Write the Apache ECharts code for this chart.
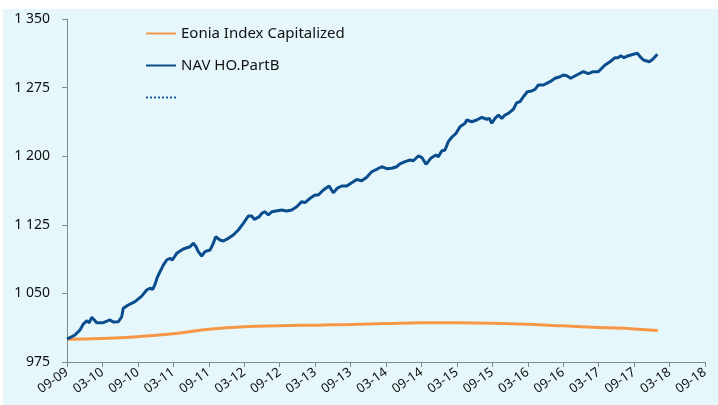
<!DOCTYPE html>
<html>
<head>
    <meta charset="utf-8">
    <title>NAV HO.PartB vs Eonia</title>
    <script src="https://cdn.jsdelivr.net/npm/echarts@6/dist/echarts.min.js"></script>
    <style>
        body { margin: 0; background: #fff; }
        #main { position: absolute; left: 3px; top: 9px; width: 715px; height: 396px; }
    </style>
</head>
<body>
    <div id="main"></div>
    <script type="text/javascript">
        // months counted from Sep 2009
        var tickLabels = ['09-09','03-10','09-10','03-11','09-11','03-12','09-12','03-13','09-13','03-14',
                          '09-14','03-15','09-15','03-16','09-16','03-17','09-17','03-18','09-18'];

        var navMonths = [0,1.35,2.2,2.76,3.34,3.78,4.18,4.62,5.03,6.15,7.28,7.84,8.69,9.26,9.53,10.38,11.51,12.65,13.49,14.05,
            14.51,14.9,15.29,15.74,16.03,16.3,16.88,17.44,17.83,18.57,19.69,20.82,21.38,21.84,22.23,22.8,23.36,24.21,24.77,25.17,
            25.9,26.46,27.31,28.15,29.0,29.85,30.69,31.27,31.71,32.56,32.96,33.52,34.08,34.66,36.35,37.2,38.04,38.89,39.73,40.29,
            41.14,41.99,42.55,43.39,44.36,45.08,45.76,46.51,47.35,48.2,49.05,49.89,50.74,51.58,52.43,53.28,54.12,54.97,55.82,56.37,
            57.22,58.07,58.63,59.47,60.05,60.78,61.57,62.47,62.86,63.43,63.99,64.55,65.13,65.86,66.53,67.38,67.67,68.52,69.36,70.21,
            71.06,71.5,71.9,72.46,73.02,73.6,74.15,74.71,75.56,76.13,76.69,77.25,77.93,78.68,79.23,79.79,80.64,81.21,81.77,82.62,
            83.46,84.02,84.6,85.27,86.29,87.41,88.25,89.1,89.95,90.52,91.08,91.93,92.78,93.34,93.74,94.3,95.03,95.88,96.56,97.01,
            97.57,98.59,99.16,99.94];
        var navValues = [1000,1004.5,1010,1016.5,1020,1018,1023.9,1021,1018,1018,1021,1018.7,1019,1024.5,1033.7,1037.3,1041,1047,1053.7,1055.6,
            1054.5,1060,1067.6,1073.7,1077.4,1081,1086.5,1088.4,1086.5,1093.8,1098.5,1101,1104.8,1101,1095.6,1090.9,1095.6,1097.4,1104.8,1112,
            1108.4,1107.3,1110.2,1113.9,1119.3,1126.6,1134.6,1134.6,1131,1133.9,1137.6,1139.3,1135.7,1139.3,1141.2,1140,1141.2,1144.8,1150.3,1149.2,
            1154,1157.6,1157.6,1163,1167.4,1160,1165,1167.4,1167.4,1171,1174.5,1173.2,1177,1183,1185.7,1188.5,1186.3,1186.8,1188.5,1191.5,
            1194,1195.8,1195,1200.2,1198.8,1191.1,1197.7,1201.3,1199.5,1205.7,1206.8,1215.9,1220.7,1225,1232.3,1236,1239.6,1237.7,1239.6,1242.5,
            1240.4,1241.4,1236,1241.4,1245,1241.4,1245,1246.9,1251.3,1258.5,1259.6,1265,1270.5,1271.3,1273.1,1277.8,1277.8,1279.7,1281.5,1285.2,
            1286.9,1288.8,1288,1285.2,1288.8,1292.4,1290.2,1292.4,1292.4,1296.1,1299.7,1303.3,1307.7,1307.7,1309.9,1307.7,1309.9,1311.4,1312.5,1308.8,
            1305.2,1303.3,1305.9,1311.4];

        var eoniaMonths = [0,6,12,18,24,30,36,42,48,54,60,66,72,78,84,90,96,100];
        var eoniaValues = [1000,1000.7,1002.7,1006,1010.7,1013.6,1014.7,1015.3,1016,1017,1017.8,1017.8,1017.4,1016.3,1014.5,1012.7,1011.2,1009.4];

        function pairs(xs, ys) {
            return xs.map(function (x, i) { return [x, ys[i]]; });
        }

        var myChart = echarts.init(document.getElementById('main'));

        var axisColor = '#7f8a90';
        var option = {
            backgroundColor: '#e6f7fc',
            animation: false,
            grid: { left: 64, right: 13, top: 10, bottom: 43 },
            legend: {
                orient: 'vertical',
                left: 137,
                top: 12,
                itemWidth: 30,
                itemHeight: 14,
                itemGap: 17,
                itemStyle: { opacity: 0 },
                textStyle: { fontFamily: 'Noto Sans', fontSize: 15, color: '#111' },
                data: ['Eonia Index Capitalized', 'NAV HO.PartB', ' ']
            },
            xAxis: {
                type: 'value',
                min: 0,
                max: 108,
                interval: 6,
                splitLine: { show: false },
                axisLine: { lineStyle: { color: axisColor } },
                axisTick: { length: 5, lineStyle: { color: axisColor } },
                axisLabel: {
                    rotate: 35,
                    margin: 9,
                    fontFamily: 'Noto Sans',
                    fontSize: 13,
                    color: '#111',
                    formatter: function (v) { return tickLabels[Math.round(v / 6)]; }
                }
            },
            yAxis: {
                type: 'value',
                min: 975,
                max: 1350,
                interval: 75,
                splitLine: { show: false },
                axisLine: { show: true, lineStyle: { color: axisColor } },
                axisTick: { show: true, length: 5, lineStyle: { color: axisColor } },
                axisLabel: {
                    margin: 17,
                    fontFamily: 'Noto Sans',
                    fontSize: 14,
                    color: '#111',
                    formatter: function (v) {
                        var s = String(v);
                        return s.length > 3 ? s.slice(0, s.length - 3) + ' ' + s.slice(-3) : s;
                    }
                }
            },
            series: [{
                name: 'Eonia Index Capitalized',
                type: 'line',
                smooth: true,
                symbol: 'none',
                lineStyle: { color: '#f79646', width: 3 },
                itemStyle: { color: '#f79646' },
                data: pairs(eoniaMonths, eoniaValues),
                z: 2
            }, {
                name: 'NAV HO.PartB',
                type: 'line',
                symbol: 'none',
                lineStyle: { color: '#0a4d8c', width: 3 },
                itemStyle: { color: '#0a4d8c' },
                data: pairs(navMonths, navValues),
                z: 3
            }, {
                name: ' ',
                type: 'line',
                symbol: 'none',
                lineStyle: { color: '#1f5fa0', width: 2, type: 'dotted' },
                itemStyle: { color: '#1f5fa0' },
                data: []
            }]
        };

        myChart.setOption(option);
    </script>
</body>
</html>
